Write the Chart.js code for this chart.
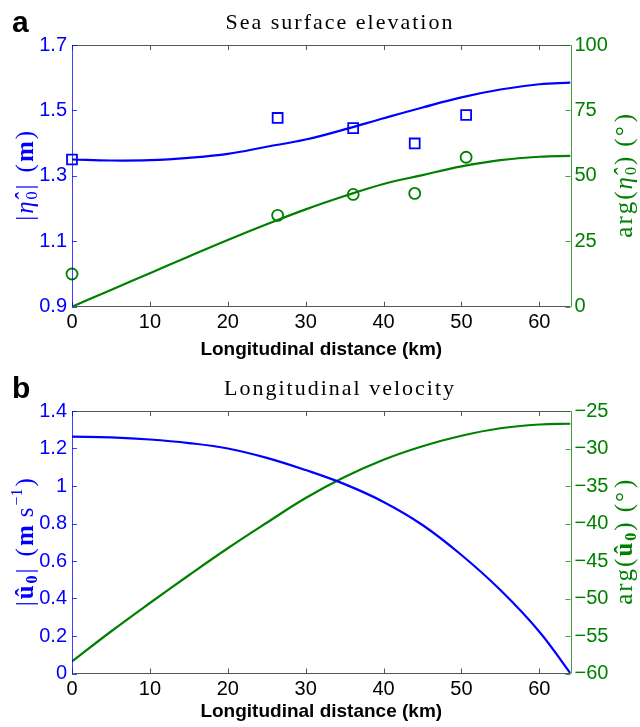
<!DOCTYPE html>
<html><head><meta charset="utf-8">
<script src="https://cdn.jsdelivr.net/npm/chart.js@4/dist/chart.umd.min.js"></script>
<style>
html,body{margin:0;padding:0;background:#fff;width:640px;height:727px;overflow:hidden}
canvas{position:absolute;left:0}
#c1{top:0}
#c2{top:364px}
</style></head><body>
<canvas id="c1" width="640" height="364" style="width:640px;height:364px"></canvas>
<canvas id="c2" width="640" height="363" style="width:640px;height:363px"></canvas>
<script>
// ---------- data ----------
const distKm   = [0, 5, 10, 15, 20, 25, 30, 35, 40, 45, 50, 55, 60, 64];
// panel a: sea surface elevation (model)
const etaAmp   = [1.350, 1.347, 1.348, 1.355, 1.367, 1.389, 1.411, 1.442, 1.476, 1.509, 1.540, 1.564, 1.580, 1.585];
const etaPhase = [0, 6.4, 12.8, 19.2, 25.5, 31.5, 37.2, 42.3, 46.9, 50.3, 53.6, 56.0, 57.3, 57.6];
// panel a: observations
const obsKm    = [0, 26.4, 36.1, 44.0, 50.6];
const obsAmp   = [1.350, 1.477, 1.446, 1.399, 1.486];
const obsPhase = [12.5, 34.9, 42.9, 43.3, 57.1];
// panel b: longitudinal velocity (model)
const uAmp     = [1.263, 1.259, 1.248, 1.229, 1.200, 1.150, 1.085, 1.010, 0.915, 0.792, 0.632, 0.445, 0.223, 0.0];
const uPhase   = [-58.4, -54.4, -50.6, -46.9, -43.3, -39.9, -36.6, -33.8, -31.5, -29.7, -28.3, -27.3, -26.8, -26.7];
// ticks
const xTicks        = [0, 10, 20, 30, 40, 50, 60];
const xTickLabels   = ['0', '10', '20', '30', '40', '50', '60'];
const aLeftTicks    = [0.9, 1.1, 1.3, 1.5, 1.7];
const aLeftLabels   = ['0.9', '1.1', '1.3', '1.5', '1.7'];
const aRightTicks   = [0, 25, 50, 75, 100];
const aRightLabels  = ['0', '25', '50', '75', '100'];
const bLeftTicks    = [0, 0.2, 0.4, 0.6, 0.8, 1.0, 1.2, 1.4];
const bLeftLabels   = ['0', '0.2', '0.4', '0.6', '0.8', '1', '1.2', '1.4'];
const bRightTicks   = [-60, -55, -50, -45, -40, -35, -30, -25];
const bRightLabels  = ['\u221260', '\u221255', '\u221250', '\u221245', '\u221240', '\u221235', '\u221230', '\u221225'];

const BLUE = '#0000ff', GREEN = '#008000';
const SERIF = '"Liberation Serif", "DejaVu Serif", serif';
const SANS = '"Liberation Sans", Arial, sans-serif';

function pts(xs, ys){ return xs.map((x, i) => ({x: x, y: ys[i]})); }

function drawRuns(ctx, runs, cx, cy, rot, color, ls){
  ctx.save();
  ctx.translate(cx, cy);
  ctx.rotate(rot);
  ctx.textBaseline = 'alphabetic';
  ctx.textAlign = 'left';
  let total = 0;
  runs.forEach(r => { ctx.font = r.f; r.w = ctx.measureText(r.t).width + (r.sp || 0) + ls; total += r.w; });
  total -= ls;
  let x = -total / 2;
  ctx.fillStyle = color;
  runs.forEach(r => { ctx.font = r.f; ctx.fillText(r.t, x, 8 + (r.dy || 0)); x += r.w; });
  ctx.restore();
}

function deco(d){
  return {
    id: 'deco' + d.panel,
    afterDraw(chart){
      const ctx = chart.ctx;
      const {left, right, top, bottom} = chart.chartArea;
      const xs = chart.scales.x, yl = chart.scales.yL, yr = chart.scales.yR;
      ctx.save();
      ctx.lineWidth = 1;
      const line = (x1, y1, x2, y2) => { ctx.beginPath(); ctx.moveTo(x1, y1); ctx.lineTo(x2, y2); ctx.stroke(); };
      // frame top/bottom
      ctx.strokeStyle = '#555';
      line(left, Math.round(top) + 0.5, right, Math.round(top) + 0.5);
      line(left, Math.round(bottom) - 0.5, right, Math.round(bottom) - 0.5);
      xs.ticks.forEach(t => {
        const px = Math.round(xs.getPixelForValue(t.value)) + 0.5;
        line(px, bottom, px, bottom - 5);
        line(px, top, px, top + 5);
      });
      // left axis
      ctx.strokeStyle = 'rgba(0,0,255,0.75)';
      line(Math.round(left) + 0.5, top, Math.round(left) + 0.5, bottom);
      yl.ticks.forEach(t => {
        const py = Math.round(yl.getPixelForValue(t.value)) + 0.5;
        line(left, py, left + 5, py);
      });
      // right axis
      ctx.strokeStyle = 'rgba(0,128,0,0.75)';
      line(Math.round(right) + 0.5, top, Math.round(right) + 0.5, bottom);
      yr.ticks.forEach(t => {
        const py = Math.round(yr.getPixelForValue(t.value)) + 0.5;
        line(right, py, right - 5, py);
      });
      // panel letter
      ctx.fillStyle = '#000';
      ctx.textBaseline = 'alphabetic';
      ctx.textAlign = 'left';
      ctx.font = 'bold 30px ' + SANS;
      ctx.fillText(d.panel, 12, d.titleY + 3);
      // title
      ctx.font = '22px ' + SERIF;
      ctx.textAlign = 'center';
      ctx.letterSpacing = '2px';
      ctx.fillText(d.title, 340, d.titleY);
      ctx.letterSpacing = '0px';
      // x title
      ctx.font = 'bold 19px ' + SANS;
      ctx.fillText('Longitudinal distance (km)', (left + right) / 2, d.xTitleY);
      ctx.restore();
      const cy = (top + bottom) / 2;
      drawRuns(ctx, d.leftRuns, 25, cy + (d.leftDy || 0), -Math.PI / 2, BLUE, 2);
      drawRuns(ctx, d.rightRuns, 624, cy, -Math.PI / 2, GREEN, 2);
    }
  };
}

function makeChart(id, o){
  const fixTicks = (vals) => (s) => { s.ticks = vals.map(v => ({value: v})); };
  return new Chart(document.getElementById(id), {
    type: 'line',
    data: { datasets: o.datasets },
    options: {
      responsive: false,
      devicePixelRatio: 1,
      animation: false,
      events: [],
      layout: { padding: { top: o.padTop, left: 0, right: 0, bottom: 0 } },
      plugins: { legend: { display: false }, tooltip: { enabled: false }, title: { display: false } },
      elements: { line: { tension: 0.4 } },
      scales: {
        x: {
          type: 'linear', min: 0, max: 64,
          afterBuildTicks: fixTicks(xTicks),
          afterFit: (s) => { s.height = o.xAxisH; },
          grid: { display: false, drawTicks: false },
          border: { display: false },
          ticks: { color: '#000', font: { family: SANS, size: 20 }, padding: 4, maxRotation: 0, autoSkip: false,
                   callback: (v, i) => xTickLabels[i] }
        },
        yL: {
          position: 'left', min: o.yL.min, max: o.yL.max,
          afterBuildTicks: fixTicks(o.yL.ticks),
          afterFit: (s) => { s.width = 72; },
          grid: { display: false, drawTicks: false },
          border: { display: false },
          ticks: { color: BLUE, font: { family: SANS, size: 20 }, padding: 5, autoSkip: false,
                   callback: (v, i) => o.yL.labels[i] }
        },
        yR: {
          position: 'right', min: o.yR.min, max: o.yR.max,
          afterBuildTicks: fixTicks(o.yR.ticks),
          afterFit: (s) => { s.width = 69.5; },
          grid: { display: false, drawTicks: false },
          border: { display: false },
          ticks: { color: GREEN, font: { family: SANS, size: 20 }, padding: 4, autoSkip: false,
                   callback: (v, i) => o.yR.labels[i] }
        }
      }
    },
    plugins: [deco(o.deco)]
  });
}

const R = (t, f, extra) => Object.assign({t: t, f: f}, extra || {});
const F  = '25px ' + SERIF, FI = 'italic 25px ' + SERIF, FB = 'bold 25px ' + SERIF, FS = '16px ' + SERIF, FSB = 'bold 16px ' + SERIF;

makeChart('c1', {
  padTop: 45, xAxisH: 364 - 306.7,
  yL: { min: 0.9, max: 1.7, ticks: aLeftTicks, labels: aLeftLabels },
  yR: { min: 0, max: 100, ticks: aRightTicks, labels: aRightLabels },
  datasets: [
    { data: pts(distKm, etaAmp), yAxisID: 'yL', borderColor: BLUE, borderWidth: 2.2, pointRadius: 0, fill: false },
    { data: pts(distKm, etaPhase), yAxisID: 'yR', borderColor: GREEN, borderWidth: 2.2, pointRadius: 0, fill: false },
    { data: pts(obsKm, obsAmp), yAxisID: 'yL', showLine: false, pointStyle: 'rect', pointRadius: 7, pointBorderWidth: 1.8,
      pointBorderColor: BLUE, pointBackgroundColor: 'rgba(0,0,0,0)', borderColor: BLUE, clip: false },
    { data: pts(obsKm, obsPhase), yAxisID: 'yR', showLine: false, pointStyle: 'circle', pointRadius: 5.5, pointBorderWidth: 1.8,
      pointBorderColor: GREEN, pointBackgroundColor: 'rgba(0,0,0,0)', borderColor: GREEN, clip: false }
  ],
  deco: {
    panel: 'a', title: 'Sea surface elevation', titleY: 29, xTitleY: 355,
    leftRuns: [R('|', F), R('\u03B7\u0302', FI), R('0', FS, {dy: 4}), R('|', F, {sp: 10}), R('(', F), R('m', FB), R(')', F)],
    rightRuns: [R('a', F), R('r', F), R('g', F), R('(', F), R('\u03B7\u0302', FI), R('0', FS, {dy: 4}), R(')', F, {sp: 8}), R('(', F), R('\u00B0', F, {sp: 2}), R(')', F)]
  }
});

makeChart('c2', {
  padTop: 47, xAxisH: 363 - 309.5,
  yL: { min: 0, max: 1.4, ticks: bLeftTicks, labels: bLeftLabels },
  yR: { min: -60, max: -25, ticks: bRightTicks, labels: bRightLabels },
  datasets: [
    { data: pts(distKm, uAmp), yAxisID: 'yL', borderColor: BLUE, borderWidth: 2.2, pointRadius: 0, fill: false },
    { data: pts(distKm, uPhase), yAxisID: 'yR', borderColor: GREEN, borderWidth: 2.2, pointRadius: 0, fill: false }
  ],
  deco: {
    panel: 'b', title: 'Longitudinal velocity', titleY: 31, xTitleY: 353,
    leftRuns: [R('|', F), R('u\u0302', FB), R('0', FSB, {dy: 4}), R('|', F, {sp: 10}), R('(', F), R('m', FB, {sp: 6}), R('s', F), R('\u22121', FS, {dy: -11}), R(')', F)],
    rightRuns: [R('a', F), R('r', F), R('g', F), R('(', F), R('u\u0302', FB), R('0', FSB, {dy: 4}), R(')', F, {sp: 8}), R('(', F), R('\u00B0', F, {sp: 2}), R(')', F)]
  }
});
</script>
</body></html>
